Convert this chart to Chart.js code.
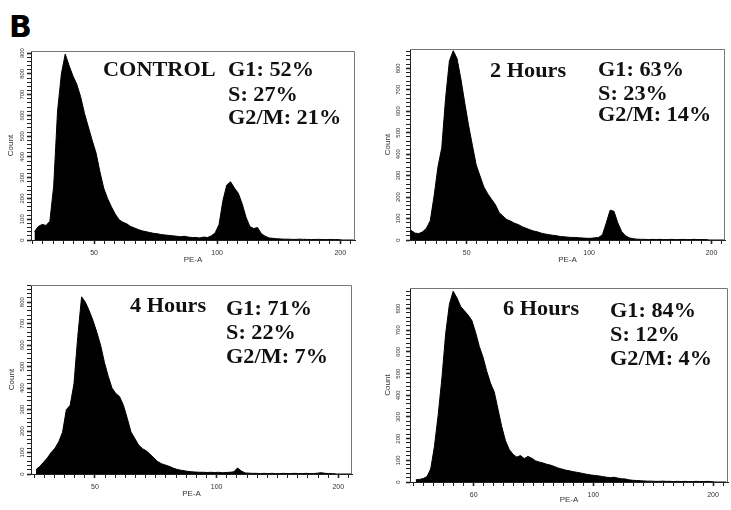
<!DOCTYPE html>
<html lang="en">
<head>
<meta charset="UTF-8">
<title>Cell cycle distribution</title>
<script src="https://cdn.jsdelivr.net/npm/chart.js"></script>
<style>
  html, body { margin: 0; padding: 0; background: #fff; overflow: hidden; }
  #wrap { position: relative; width: 731px; height: 510px; }
  canvas { position: absolute; }
  .tag { position: absolute; font-family: "Liberation Serif", "Times New Roman", serif; font-weight: bold;
         font-size: 21px; line-height: 21px; color: #111; white-space: nowrap;
         transform: scaleX(1.06); transform-origin: left top; }
  #letter { position: absolute; left: 9px; top: 12px; font-family: "DejaVu Sans", Arial, sans-serif;
            font-weight: bold; font-size: 30px; line-height: 30px; color: #000; }
</style>
</head>
<body>
<div id="wrap">
  <div id="letter">B</div>
  <canvas id="c0" width="365" height="230" style="left:0;top:40px"></canvas>
  <canvas id="c1" width="361" height="230" style="left:370px;top:40px"></canvas>
  <canvas id="c2" width="365" height="224" style="left:0;top:280px"></canvas>
  <canvas id="c3" width="361" height="232" style="left:370px;top:280px"></canvas>
</div>
<script>
// histogram bins on the PE-A axis (axis units, one unit = one tick interval)
const binStart = 2;
const binWidth = 0.125;

const countsControl = [40, 65, 75, 70, 90, 260, 620, 800, 895, 840,
  790, 750, 690, 610, 545, 480, 420, 330, 250, 200,
  160, 125, 98, 85, 78, 65, 58, 50, 44, 40,
  36, 32, 30, 26, 24, 22, 20, 18, 16, 18,
  14, 12, 12, 10, 14, 12, 20, 35, 75, 190,
  265, 280, 250, 225, 175, 110, 65, 55, 60, 30,
  18, 10, 8, 6, 5, 4, 4, 3, 3, 4,
  3, 3, 2, 3, 3, 2, 2, 3, 2, 2,
  0, 0, 0, 0];

const counts2h = [0, 45, 32, 30, 38, 55, 90, 205, 340, 430,
  660, 835, 882, 845, 750, 640, 535, 442, 350, 298,
  247, 216, 190, 165, 128, 111, 95, 88, 78, 72,
  62, 55, 48, 42, 38, 32, 28, 25, 22, 20,
  16, 15, 13, 12, 12, 10, 9, 8, 8, 10,
  12, 25, 80, 139, 134, 80, 40, 20, 10, 6,
  4, 3, 3, 2, 3, 2, 3, 2, 2, 3,
  2, 2, 3, 2, 2, 3, 2, 2, 2, 0,
  0, 0, 0, 0];

const counts4h = [20, 35, 55, 75, 100, 120, 150, 195, 300, 320,
  420, 640, 825, 800, 760, 715, 660, 600, 520, 455,
  400, 375, 360, 320, 260, 195, 165, 135, 118, 108,
  92, 75, 58, 48, 42, 36, 28, 22, 18, 15,
  12, 10, 9, 8, 8, 7, 8, 7, 8, 6,
  7, 8, 10, 28, 14, 5, 4, 3, 3, 2,
  3, 2, 3, 2, 2, 3, 2, 2, 3, 2,
  2, 3, 2, 2, 4, 6, 3, 2, 2, 0,
  0, 0, 0, 0];

const counts6h = [10, 12, 16, 25, 60, 165, 310, 480, 685, 820,
  880, 850, 810, 790, 770, 745, 690, 625, 575, 510,
  455, 415, 335, 255, 190, 150, 128, 115, 122, 108,
  118, 110, 98, 92, 88, 82, 78, 72, 65, 60,
  55, 52, 48, 45, 42, 38, 35, 32, 30, 28,
  25, 22, 20, 22, 18, 15, 14, 10, 8, 7,
  6, 5, 4, 4, 3, 3, 4, 3, 3, 2,
  3, 2, 3, 2, 2, 3, 2, 2, 3, 2,
  0, 0, 0, 0];

// labelled x positions, with three minor ticks per unit
const xTickValues = [4, 8, 12];
const xLabelsA = ['50', '100', '200'];
const xLabelsB = ['60', '100', '200'];
const yLabelMax = [900, 800, 800, 800];

const panelNames = ['CONTROL', '2 Hours', '4 Hours', '6 Hours'];
const g1Pct = [52, 63, 71, 84];
const sPct = [27, 23, 22, 12];
const g2mPct = [21, 14, 7, 4];

const panels = [
  { counts: countsControl, xLabels: xLabelsA, xMin: 1.95, xMax: 12.48, yMax: 910,
    yWidth: 31, top: 11, right: 10, countPad: 6, tickPad: 0, titlePad: 5,
    name: [103, 77], stats: [228, 77, 102, 125] },
  { counts: counts2h, xLabels: xLabelsA, xMin: 2.15, xMax: 12.44, yMax: 890,
    yWidth: 40, top: 9, right: 6, countPad: 13, tickPad: 3, titlePad: 5,
    name: [490, 78], stats: [598, 77, 101, 122] },
  { counts: counts4h, xLabels: xLabelsA, xMin: 1.9, xMax: 12.45, yMax: 880,
    yWidth: 31, top: 5, right: 13, countPad: 7, tickPad: 0, titlePad: 5,
    name: [130, 313], stats: [226, 316, 340, 364] },
  { counts: counts6h, xLabels: xLabelsB, xMin: 1.87, xMax: 12.5, yMax: 895,
    yWidth: 40, top: 8, right: 3, countPad: 13, tickPad: 3, titlePad: 7,
    name: [503, 316], stats: [610, 318, 342, 366] }
];

// thin grey frame on top and right of the plot
const frame = {
  id: 'frame',
  afterDraw(chart) {
    const { ctx, chartArea: a } = chart;
    ctx.save();
    ctx.lineWidth = 1;
    ctx.strokeStyle = '#777';
    ctx.beginPath();
    ctx.moveTo(a.left, a.top + 0.5);
    ctx.lineTo(a.right - 0.5, a.top + 0.5);
    ctx.lineTo(a.right - 0.5, a.bottom);
    ctx.stroke();
    ctx.restore();
  }
};

const fontFam = '"Liberation Sans", Arial, sans-serif';

panels.forEach((p, i) => {
  const points = p.counts.map((c, k) => ({ x: binStart + (k + 0.5) * binWidth, y: c }));
  new Chart(document.getElementById('c' + i), {
    type: 'line',
    data: {
      datasets: [{
        data: points,
        fill: 'origin',
        tension: 0,
        backgroundColor: '#000',
        borderColor: '#000',
        borderWidth: 1,
        pointRadius: 0
      }]
    },
    options: {
      responsive: false,
      animation: false,
      events: [],
      layout: { padding: { left: 0, top: p.top, right: p.right, bottom: 0 } },
      plugins: { legend: { display: false }, tooltip: { enabled: false } },
      scales: {
        x: {
          type: 'linear', min: p.xMin, max: p.xMax,
          grid: { display: true, drawOnChartArea: false, drawTicks: true, tickLength: 4, tickColor: '#222',
                  tickWidth: ctx => (xTickValues.includes(ctx.tick && ctx.tick.value) ? 1.6 : 1) },
          border: { display: true, color: '#222', width: 1 },
          afterBuildTicks: s => {
            const t = [];
            for (let k = Math.ceil(s.min * 3); k <= s.max * 3; k++) t.push({ value: k / 3 });
            s.ticks = t;
          },
          afterFit: s => { s.height = 30; },
          ticks: { padding: 5, autoSkip: false, maxRotation: 0, color: '#333', font: { family: fontFam, size: 7 },
                   callback: v => {
                     const j = xTickValues.findIndex(t => Math.abs(t - v) < 1e-6);
                     return j >= 0 ? p.xLabels[j] : '';
                   } },
          title: { display: true, text: 'PE-A', color: '#333', font: { family: fontFam, size: 8 },
                   padding: { top: 0, bottom: p.titlePad } }
        },
        y: {
          type: 'linear', min: 0, max: p.yMax,
          grid: { display: true, drawOnChartArea: false, drawTicks: true, tickLength: 4, tickColor: '#222',
                  tickWidth: ctx => (ctx.tick && ctx.tick.value % 100 === 0 ? 1.6 : 1) },
          border: { display: true, color: '#222', width: 1 },
          afterBuildTicks: s => {
            const t = [];
            for (let v = 0; v <= s.max; v += 20) t.push({ value: v });
            s.ticks = t;
          },
          afterFit: s => { s.width = p.yWidth; },
          ticks: { padding: p.tickPad, autoSkip: false, minRotation: 90, maxRotation: 90, crossAlign: 'center',
                   color: '#333', font: { family: fontFam, size: 6 },
                   callback: v => (v % 100 === 0 && v <= yLabelMax[i] ? String(v) : '') },
          title: { display: true, text: 'Count', color: '#333', font: { family: fontFam, size: 8 },
                   padding: { top: p.countPad, bottom: 0 } }
        }
      }
    },
    plugins: [frame]
  });

  // text annotations
  const wrap = document.getElementById('wrap');
  const addTag = (text, left, baseline) => {
    const d = document.createElement('div');
    d.className = 'tag';
    d.textContent = text;
    d.style.left = left + 'px';
    d.style.top = (baseline - 17.6) + 'px';
    wrap.appendChild(d);
  };
  addTag(panelNames[i], p.name[0], p.name[1]);
  addTag('G1: ' + g1Pct[i] + '%', p.stats[0], p.stats[1]);
  addTag('S: ' + sPct[i] + '%', p.stats[0], p.stats[2]);
  addTag('G2/M: ' + g2mPct[i] + '%', p.stats[0], p.stats[3]);
});
</script>
</body>
</html>
